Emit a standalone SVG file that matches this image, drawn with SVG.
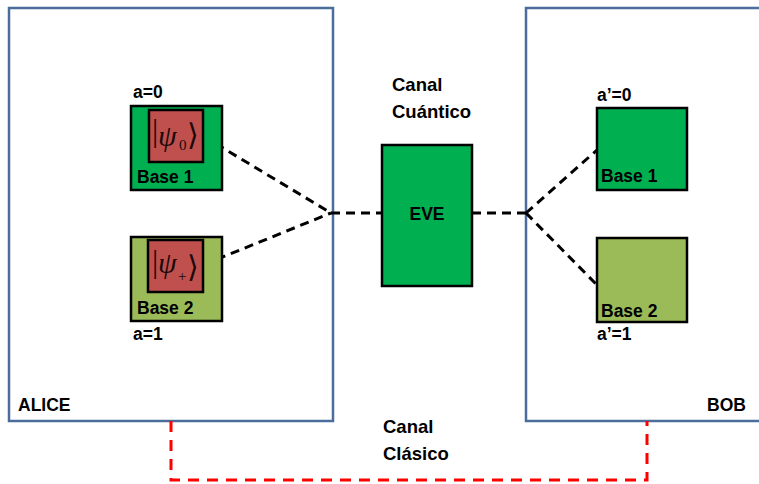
<svg xmlns="http://www.w3.org/2000/svg" width="759" height="484" viewBox="0 0 759 484">
  <style>
    .party { fill: #ffffff; stroke: #4a6d9a; stroke-width: 2.5; }
    .lbl { font-family: "Liberation Sans", Arial, sans-serif; font-weight: bold; font-size: 17.5px; fill: #000000; }
    .big { font-size: 18.5px; }
    .base1 { fill: #00b050; stroke: #000000; stroke-width: 2.5; }
    .base2 { fill: #9bbb59; stroke: #000000; stroke-width: 2.5; }
    .state { fill: #c0504d; stroke: #000000; stroke-width: 2.5; }
    .ket { font-family: "Liberation Serif", "Times New Roman", serif; fill: #1a0a0a; }
    .bar { font-size: 31px; }
    .psi { font-size: 30px; font-style: italic; }
    .sub { font-size: 15px; }
    .rang { font-family: "DejaVu Serif", serif; font-size: 30px; fill: #1a0a0a; }
    .q { fill: none; stroke: #000000; stroke-width: 3; stroke-dasharray: 9 6; }
    .c { fill: none; stroke: #ff0000; stroke-width: 3; stroke-dasharray: 11 8; }
  </style>

  <!-- communicating parties -->
  <g id="alice">
    <rect class="party" x="9" y="8" width="324" height="413"/>
    <text class="lbl" x="18" y="411">ALICE</text>
  </g>
  <g id="bob">
    <rect class="party" x="526" y="8" width="250" height="413"/>
    <text class="lbl" x="707" y="411">BOB</text>
  </g>

  <!-- quantum (black) and classical (red) channels -->
  <g id="connectors">
    <polyline class="q" points="203,136 331,213"/>
    <polyline class="q" points="203,265 331,213"/>
    <polyline class="q" points="331,213 382,213"/>
    <polyline class="q" points="472,213 526,213"/>
    <polyline class="q" points="526,213 597,150"/>
    <polyline class="q" points="526,213 597,285"/>
    <polyline class="c" points="171,421 171,480 647,480 647,421"/>
  </g>

  <g id="quantum-channel-label">
    <text class="lbl big" x="392" y="91">Canal</text>
    <text class="lbl big" x="392" y="118">Cuántico</text>
  </g>
  <g id="classical-channel-label">
    <text class="lbl big" x="383" y="433">Canal</text>
    <text class="lbl big" x="383" y="460">Clásico</text>
  </g>

  <!-- Alice bases with prepared states -->
  <g id="alice-base1">
    <text class="lbl" x="133" y="98">a=0</text>
    <rect class="base1" x="131" y="106" width="91" height="84"/>
    <rect class="state" x="149" y="110" width="54" height="52"/>
    <text class="ket bar" x="152" y="141">|</text>
    <text class="ket psi" x="158" y="146">ψ</text>
    <text class="ket sub" x="179" y="150">0</text>
    <text class="rang" x="187" y="145">⟩</text>
    <text class="lbl" x="137" y="183">Base 1</text>
  </g>
  <g id="alice-base2">
    <rect class="base2" x="131" y="237" width="91" height="84"/>
    <rect class="state" x="148" y="240" width="55" height="52"/>
    <text class="ket bar" x="152" y="272">|</text>
    <text class="ket psi" x="158" y="273">ψ</text>
    <text class="ket sub" x="178" y="281">+</text>
    <text class="rang" x="187" y="277">⟩</text>
    <text class="lbl" x="137" y="314">Base 2</text>
    <text class="lbl" x="133" y="340">a=1</text>
  </g>

  <!-- eavesdropper on the quantum channel -->
  <g id="eve">
    <rect class="base1" x="382" y="145" width="90" height="141"/>
    <text class="lbl" x="427" y="220" text-anchor="middle">EVE</text>
  </g>

  <!-- Bob bases -->
  <g id="bob-base1">
    <text class="lbl" x="597" y="101">a’=0</text>
    <rect class="base1" x="597" y="108" width="90" height="82"/>
    <text class="lbl" x="601" y="182">Base 1</text>
  </g>
  <g id="bob-base2">
    <rect class="base2" x="597" y="238" width="90" height="84"/>
    <text class="lbl" x="601" y="317">Base 2</text>
    <text class="lbl" x="597" y="340">a’=1</text>
  </g>
</svg>
